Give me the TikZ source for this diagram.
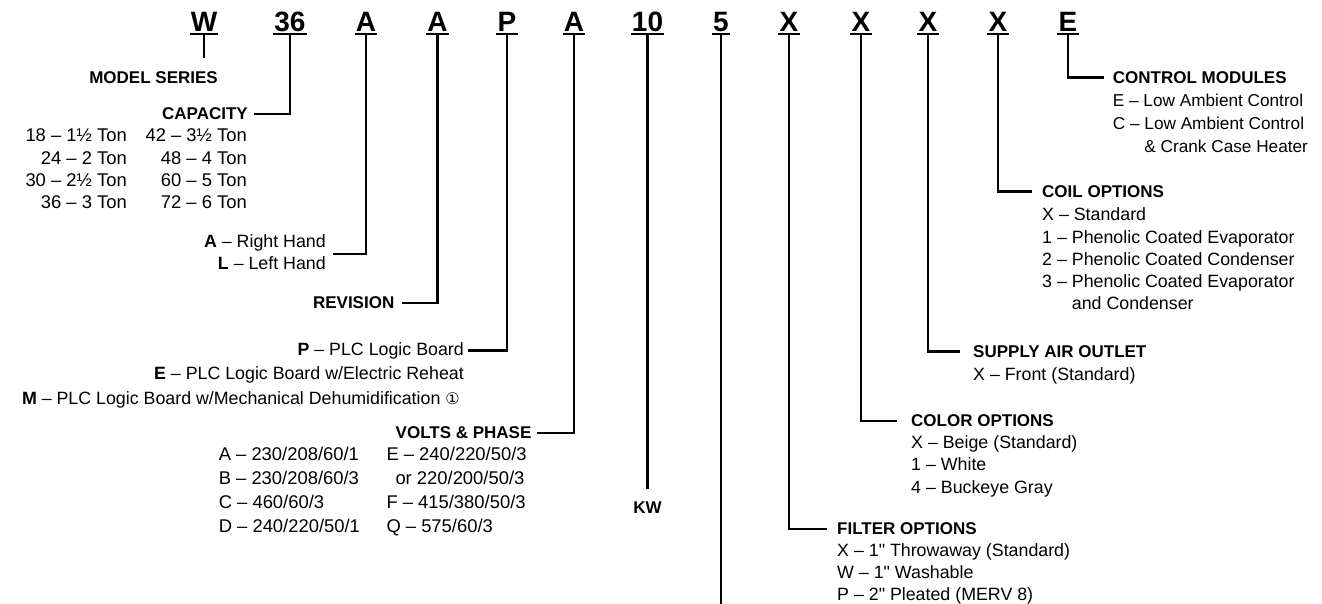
\documentclass[tikz,border=0pt]{standalone}
\usepackage{fontspec}
\setmainfont{Liberation Sans}
\newfontfamily\circfont{DejaVu Sans}
\usepackage{tikz}

\newcommand{\optlist}[2]{\begin{tabular}[t]{@{}#1@{}}#2\end{tabular}}
\newcommand{\inch}{\textquotedbl}

\tikzset{
    code/.style={font=\fontsize{28}{30}\selectfont\bfseries, inner sep=0pt, anchor=base},
    head/.style={font=\fontsize{17}{20}\selectfont\bfseries, inner sep=0pt},
    body/.style={font=\fontsize{17.8}{#1}\selectfont, inner sep=0pt},
    body/.default=22.5,
    table/.style={font=\fontsize{18.4}{#1}\selectfont, inner sep=0pt},
    wire/.style={line width=2.3pt},
    uline/.style={line width=2pt}
}

\begin{document}
\begin{tikzpicture}[x=1pt, y=-1pt]
    \useasboundingbox (0,0) rectangle (1322,604);

    % model number
    \node[code] (w) at (204,32) {W};
    \node[code] (c36) at (290,32) {36};
    \node[code] (hand) at (366,32) {A};
    \node[code] (rev) at (437.5,32) {A};
    \node[code] (logic) at (507,32) {P};
    \node[code] (volt) at (574,32) {A};
    \node[code] (kwcode) at (647.5,32) {10};
    \node[code] (five) at (721,32) {5};
    \node[code] (filt) at (789,32) {X};
    \node[code] (col) at (861,32) {X};
    \node[code] (air) at (928,32) {X};
    \node[code] (coil) at (998,32) {X};
    \node[code] (ctrl) at (1068,32) {E};
    \foreach \n in {w,c36,hand,rev,logic,volt,kwcode,five,filt,col,air,coil,ctrl}
        \draw[uline] ([shift={(-1pt,-2.5pt)}]\n.base west) -- ([shift={(1pt,-2.5pt)}]\n.base east);

    % left side
    \node[head, anchor=base east] (model) at (218,84) {MODEL SERIES};
    \coordinate (wend) at (204,58);
    \node[head, anchor=base east] (capacity) at (248,120) {CAPACITY};
    \node[table=22.4, anchor=base east] (caplo) at (127,141.7)
        {\optlist{r}{18 -- 1½ Ton\\24 -- 2 Ton\\30 -- 2½ Ton\\36 -- 3 Ton}};
    \node[table=22.4, anchor=base east] (caphi) at (247,141.7)
        {\optlist{r}{42 -- 3½ Ton\\48 -- 4 Ton\\60 -- 5 Ton\\72 -- 6 Ton}};
    \node[body=22, anchor=base east] (sides) at (326,247.3)
        {\optlist{r}{\textbf{A} -- Right Hand\\\textbf{L} -- Left Hand}};
    \node[head, anchor=base east] (revision) at (394.5,308.6) {REVISION};
    \node[body, anchor=base east] (pboard) at (464,355) {\textbf{P} -- PLC Logic Board};
    \node[body, anchor=base east] (eboard) at (464,379.5) {\textbf{E} -- PLC Logic Board w/Electric Reheat};
    \node[body, anchor=base east] (mboard) at (460,404)
        {\textbf{M} -- PLC Logic Board w/Mechanical Dehumidification {\fontsize{16}{16}\circfont ①}};
    \node[head, anchor=base east] (volts) at (531.6,438.6) {VOLTS \& PHASE};
    \node[table=24, anchor=base west] (voltlo) at (218.6,460.7)
        {\optlist{l}{A -- 230/208/60/1\\B -- 230/208/60/3\\C -- 460/60/3\\D -- 240/220/50/1}};
    \node[table=24, anchor=base west] (volthi) at (386.3,460.7)
        {\optlist{l}{E -- 240/220/50/3\\\hspace{9pt}or 220/200/50/3\\F -- 415/380/50/3\\Q -- 575/60/3}};
    \node[head, anchor=base] (kw) at (647.5,513.5) {KW};
    \coordinate (fiveend) at (721,604);

    % right side
    \node[head, anchor=base west] (control) at (1112.7,83.3) {CONTROL MODULES};
    \node[body=22.7, font=\fontsize{17.2}{22.7}\selectfont, anchor=base west] (controllist) at ([yshift=-23.4pt]control.base west)
        {\optlist{l}{E -- Low Ambient Control\\C -- Low Ambient Control\\\phantom{C -- }\& Crank Case Heater}};
    \node[head, anchor=base west] (coilhead) at (1042,197.3) {COIL OPTIONS};
    \node[body=22.3, anchor=base west] (coillist) at ([yshift=-23.4pt]coilhead.base west)
        {\optlist{l}{X -- Standard\\1 -- Phenolic Coated Evaporator\\2 -- Phenolic Coated Condenser\\3 -- Phenolic Coated Evaporator\\\phantom{3 -- }and Condenser}};
    \node[head, anchor=base west] (supply) at (973,357.3) {SUPPLY AIR OUTLET};
    \node[body, anchor=base west] (supplylist) at ([yshift=-22.7pt]supply.base west) {X -- Front (Standard)};
    \node[head, anchor=base west] (color) at (911,426.7) {COLOR OPTIONS};
    \node[body, anchor=base west] (colorlist) at ([yshift=-21.6pt]color.base west)
        {\optlist{l}{X -- Beige (Standard)\\1 -- White\\4 -- Buckeye Gray}};
    \node[head, anchor=base west] (filter) at (837,534.5) {FILTER OPTIONS};
    \node[body=22, anchor=base west] (filterlist) at ([yshift=-22pt]filter.base west)
        {\optlist{l}{X -- 1\inch\ Throwaway (Standard)\\W -- 1\inch\ Washable\\P -- 2\inch\ Pleated (MERV 8)}};

    % connectors
    \draw[wire] ([yshift=-2.5pt]w.base) -- (wend);
    \draw[wire, shorten >=6pt] ([yshift=-2.5pt]c36.base) |- (capacity);
    \draw[wire, shorten >=7pt] ([yshift=-2.5pt]hand.base) |- (sides);
    \draw[wire, shorten >=7pt] ([yshift=-2.5pt]rev.base) |- (revision);
    \draw[wire, shorten >=4pt] ([yshift=-2.5pt]logic.base) |- (pboard);
    \draw[wire, shorten >=5pt] ([yshift=-2.5pt]volt.base) |- (volts);
    \draw[wire, shorten >=13pt] ([yshift=-2.5pt]kwcode.base) -- (kw);
    \draw[wire] ([yshift=-2.5pt]five.base) -- (fiveend);
    \draw[wire, shorten >=10pt] ([yshift=-2.5pt]filt.base) |- (filter);
    \draw[wire, shorten >=14pt] ([yshift=-2.5pt]col.base) |- (color);
    \draw[wire, shorten >=13pt] ([yshift=-2.5pt]air.base) |- (supply);
    \draw[wire, shorten >=10pt] ([yshift=-2.5pt]coil.base) |- (coilhead);
    \draw[wire, shorten >=8.7pt] ([yshift=-2.5pt]ctrl.base) |- (control);
\end{tikzpicture}
\end{document}
